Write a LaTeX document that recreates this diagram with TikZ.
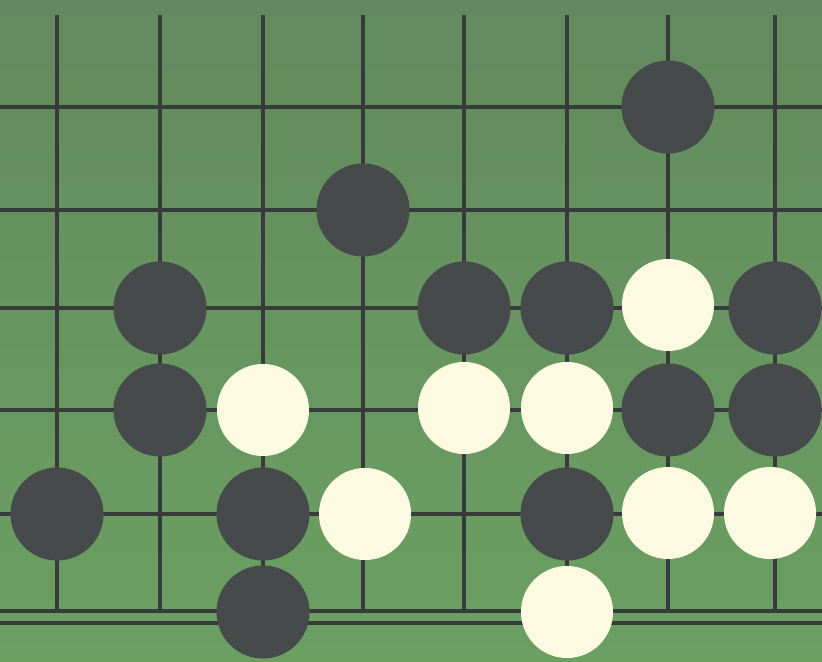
\documentclass[tikz,border=0pt]{standalone}
\definecolor{linecol}{RGB}{55,60,58}
\definecolor{blackstone}{RGB}{70,74,74}
\definecolor{whitestone}{RGB}{253,250,226}
\definecolor{bgtop}{RGB}{100,124,100}
\definecolor{bgmid}{RGB}{100,142,94}
\definecolor{bglow}{RGB}{106,156,98}
\definecolor{bgbot}{RGB}{112,166,98}
\pgfdeclareverticalshading{boardbg}{100bp}{color(0bp)=(bgbot); color(35bp)=(bglow); color(65bp)=(bgmid); color(100bp)=(bgtop)}
\begin{document}
\begin{tikzpicture}[x=0.01cm,y=-0.01cm,
  gridline/.style={draw=linecol,line width=0.032cm},
  bstone/.style={circle,fill=blackstone,minimum size=0.93cm,inner sep=0pt},
  wstone/.style={circle,fill=whitestone,minimum size=0.92cm,inner sep=0pt}]
\shade[shading=boardbg] (0,0) rectangle (822,662);
\useasboundingbox (0,0) rectangle (822,662);
% vertical lines
\foreach \x in {57,160,263,363,464,567,668,775}
  \draw[gridline] (\x,15) -- (\x,611);
% horizontal lines
\foreach \y in {107,210,308,410,514,611}
  \draw[gridline] (0,\y) -- (822,\y);
\draw[draw=linecol,line width=0.045cm] (0,623) -- (822,623);
% stones
\node[bstone] (b1) at (668,107) {};
\node[bstone] (b2) at (363,210) {};
\node[bstone] (b3) at (160,308) {};
\node[bstone] (b4) at (464,308) {};
\node[bstone] (b5) at (567,308) {};
\node[wstone] (w1) at (668,305) {};
\node[bstone] (b6) at (775,308) {};
\node[bstone] (b7) at (160,410) {};
\node[wstone] (w2) at (263,410) {};
\node[wstone] (w3) at (464,408) {};
\node[wstone] (w4) at (567,408) {};
\node[bstone] (b8) at (668,410) {};
\node[bstone] (b9) at (775,410) {};
\node[bstone] (b10) at (57,514) {};
\node[bstone] (b11) at (263,514) {};
\node[wstone] (w5) at (365,514) {};
\node[bstone] (b12) at (567,514) {};
\node[wstone] (w6) at (668,513) {};
\node[wstone] (w7) at (770,513) {};
\node[bstone] (b13) at (263,612) {};
\node[wstone] (w8) at (567,612) {};
\end{tikzpicture}
\end{document}
